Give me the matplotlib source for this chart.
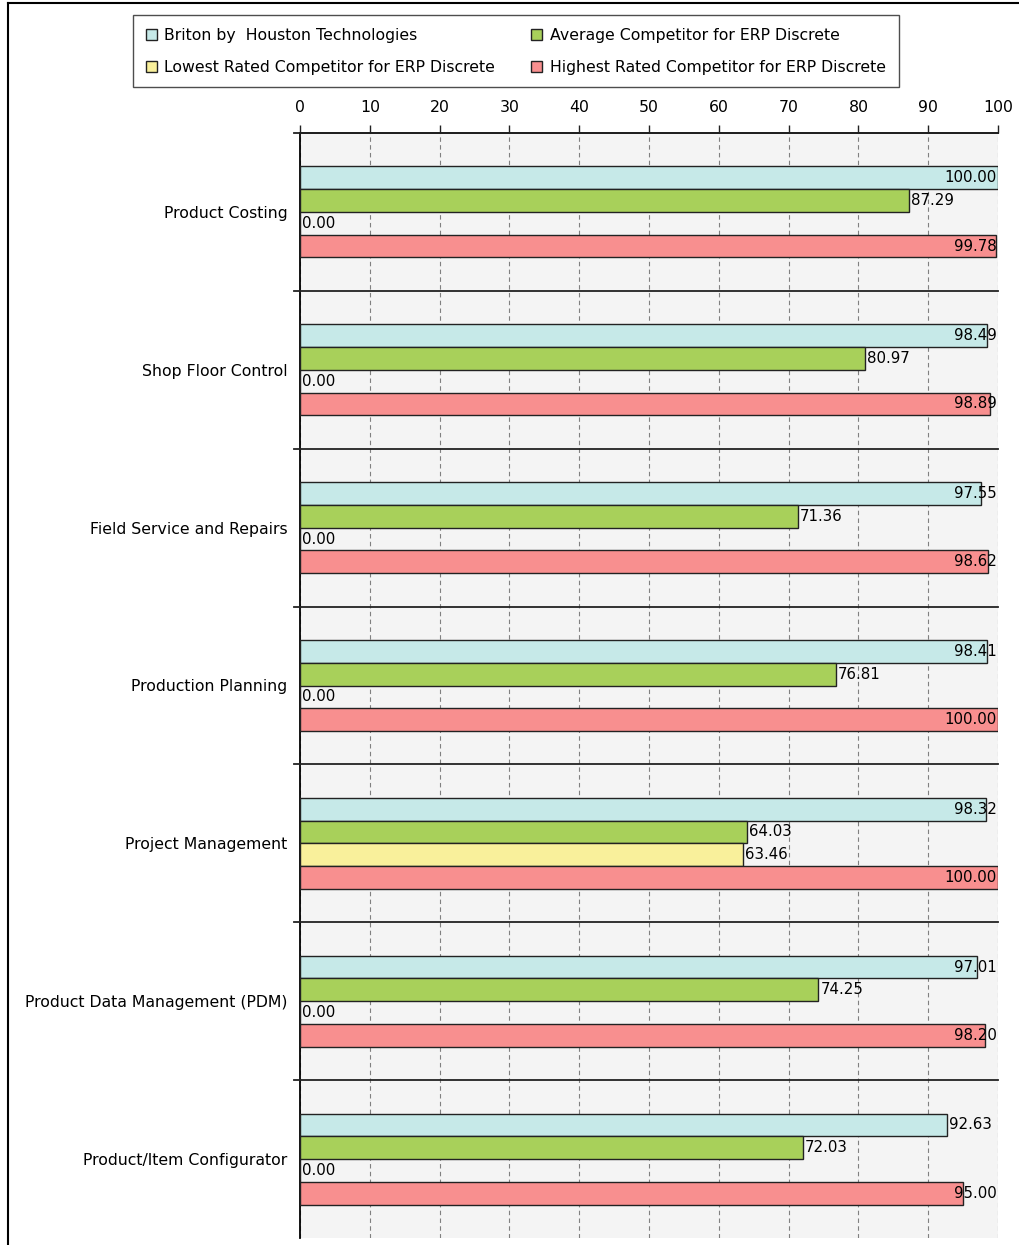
import numpy as np
import matplotlib.pyplot as plt
from matplotlib.patches import Patch
from matplotlib.lines import Line2D

categories = ["Product Costing", "Shop Floor Control", "Field Service and Repairs",
              "Production Planning", "Project Management",
              "Product Data Management (PDM)", "Product/Item Configurator"]
series = ["Briton by  Houston Technologies", "Average Competitor for ERP Discrete",
          "Lowest Rated Competitor for ERP Discrete", "Highest Rated Competitor for ERP Discrete"]
briton = [100.00, 98.49, 97.55, 98.41, 98.32, 97.01, 92.63]
average = [87.29, 80.97, 71.36, 76.81, 64.03, 74.25, 72.03]
lowest = [0.00, 0.00, 0.00, 0.00, 63.46, 0.00, 0.00]
highest = [99.78, 98.89, 98.62, 100.00, 100.00, 98.20, 95.00]
ticks = [0, 10, 20, 30, 40, 50, 60, 70, 80, 90, 100]

COLORS = ["#c6e9e8", "#a8d05a", "#f9f09b", "#f88f8f"]

fig = plt.figure(figsize=(10.2, 12.45), dpi=100)
plt.rcParams["font.family"] = ["DejaVu Sans"]
FS = 11.3

# outer frame lines (top and left)
fig.add_artist(Line2D([8 / 1020, 1], [1 - 3 / 1245] * 2, color="black", lw=1.5))
fig.add_artist(Line2D([8 / 1020] * 2, [0, 1 - 3 / 1245], color="black", lw=1.5))

ax = fig.add_axes([300 / 1020, 1 - 1238 / 1245, 698 / 1020, (1238 - 133) / 1245])
ax.set_facecolor("#f4f4f4")
ax.set_xlim(0, 100)
n = len(categories)
ax.set_ylim(n, 0)

bh = 0.144
vals = [briton, average, lowest, highest]
for k, (v, c) in enumerate(zip(vals, COLORS)):
    y = np.arange(n) + 0.5 + (k - 1.5) * bh
    ax.barh(y, v, height=bh, color=c, edgecolor="#222222", linewidth=1.0, zorder=3)
    for yi, vi in zip(y, v):
        txt = f"{vi:.2f}"
        # label sits at the bar end unless it would run past 100
        if vi + 6.8 > 100:
            ax.text(99.8, yi, txt, ha="right", va="center", fontsize=FS - 0.5, zorder=4)
        else:
            ax.text(vi + 0.3, yi, txt, ha="left", va="center", fontsize=FS - 0.5, zorder=4)

# group separators
for i in range(n):
    ax.plot([-0.9, 100], [i, i], color="#222222", lw=1.3, clip_on=False, zorder=5)

ax.set_yticks(np.arange(n) + 0.5)
ax.set_yticklabels(categories, fontsize=FS)
ax.tick_params(axis="y", length=0, pad=9)
ax.xaxis.tick_top()
ax.set_xticks(ticks)
ax.set_xticklabels([str(t) for t in ticks], fontsize=FS)
ax.tick_params(axis="x", length=6, width=1, color="#222222", pad=7)
ax.grid(axis="x", color="#808080", linestyle=(0, (4, 3)), lw=0.8, zorder=1)
for s in ["right", "bottom"]:
    ax.spines[s].set_visible(False)
ax.spines["left"].set_linewidth(1.3)
ax.spines["top"].set_linewidth(1.3)

handles = [Patch(facecolor=COLORS[i], edgecolor="#222222", label=series[i]) for i in (0, 2, 1, 3)]
leg = fig.legend(handles=handles, ncol=2, loc="upper left",
                 bbox_to_anchor=(133 / 1020, 1 - 15 / 1245), fontsize=FS,
                 frameon=True, fancybox=False, edgecolor="#222222",
                 handlelength=0.7, handleheight=0.7, handletextpad=0.5,
                 columnspacing=2.3, labelspacing=1.08, borderpad=0.8,
                 borderaxespad=0)
leg.get_frame().set_linewidth(1.0)

fig.savefig("out.png", dpi=100)
